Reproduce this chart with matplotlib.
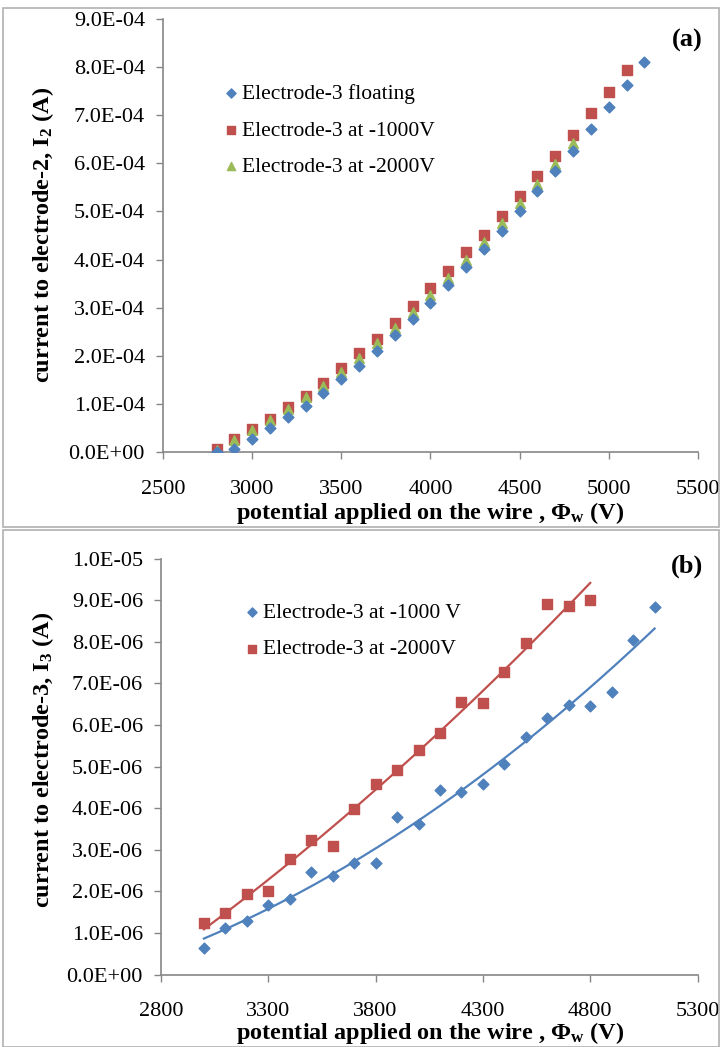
import matplotlib
matplotlib.use("Agg")
import numpy as np
import matplotlib.pyplot as plt
import matplotlib.ticker as mticker
from matplotlib.patches import Rectangle

plt.rcParams["font.family"] = ["Liberation Serif", "DejaVu Serif"]
plt.rcParams["mathtext.fontset"] = "custom"
plt.rcParams["mathtext.rm"] = "Liberation Serif"
plt.rcParams["mathtext.bf"] = "Liberation Serif:bold"
plt.rcParams["mathtext.it"] = "Liberation Serif:italic"

BLUE = "#4F81BD"
RED = "#C0504D"
GREEN = "#9BBB59"
AXIS = "#868686"
W, H = 720, 1047

# ---- panel (a): current to electrode-2 (A), in units of 1e-4
v_a_float = list(range(2800, 5201, 100))
i2_float = [0.00, 0.06, 0.27, 0.49, 0.72, 0.96, 1.23, 1.52, 1.79, 2.10, 2.43, 2.76, 3.10,
            3.47, 3.84, 4.22, 4.60, 5.02, 5.42, 5.84, 6.26, 6.71, 7.17, 7.63, 8.10]
v_a_1000 = list(range(2800, 5101, 100))
i2_1000 = [0.07, 0.27, 0.48, 0.69, 0.93, 1.17, 1.43, 1.74, 2.05, 2.35, 2.69, 3.04, 3.40,
           3.77, 4.16, 4.51, 4.91, 5.32, 5.74, 6.15, 6.59, 7.04, 7.49, 7.95]
v_a_2000 = list(range(2800, 4801, 100))
i2_2000 = [0.05, 0.25, 0.46, 0.67, 0.90, 1.14, 1.38, 1.67, 1.95, 2.26, 2.57, 2.90, 3.26,
           3.62, 3.99, 4.36, 4.77, 5.17, 5.57, 5.99, 6.42]

# ---- panel (b): current to electrode-3 (A), in units of 1e-6
v_b_1000 = list(range(3000, 5101, 100))
i3_1000 = [0.65, 1.13, 1.28, 1.68, 1.83, 2.46, 2.37, 2.68, 2.68, 3.78, 3.62, 4.44, 4.38,
           4.58, 5.06, 5.70, 6.18, 6.48, 6.45, 6.79, 8.04, 8.83]
v_b_2000 = list(range(3000, 4801, 100))
i3_2000 = [1.25, 1.49, 1.93, 2.02, 2.79, 3.24, 3.10, 3.97, 4.59, 4.92, 5.40, 5.81, 6.56,
           6.53, 7.28, 7.98, 8.90, 8.85, 9.00]

XLABEL = "potential applied on the wire , Φ$_\\mathbf{w}$ (V)"


def sci(v, _):
    return f"{v:.1E}"


def px(x, y):
    # pixel position (from top-left) -> figure fraction
    return x / W, 1 - y / H


def style(ax):
    for s in ("top", "right"):
        ax.spines[s].set_visible(False)
    for s in ("left", "bottom"):
        ax.spines[s].set_color(AXIS)
        ax.spines[s].set_linewidth(1.2)
    ax.tick_params(direction="out", length=5, width=1.0, color=AXIS, labelsize=16)
    ax.tick_params(axis="x", pad=15)
    ax.tick_params(axis="y", pad=8)
    ax.yaxis.set_major_formatter(mticker.FuncFormatter(sci))


def legend(ax, x, y):
    fx, fy = px(x, y)
    ax.legend(loc="upper left", bbox_to_anchor=(fx, fy), bbox_transform=ax.figure.transFigure,
              frameon=False, fontsize=15.5, handlelength=0.6, handletextpad=0.2,
              labelspacing=0.76, borderpad=0, borderaxespad=0, markerscale=0.85)


fig = plt.figure(figsize=(W / 100, H / 100), dpi=100)

# chart-area borders
for y0, h in ((0.497, 0.495), (0.0, 0.494)):
    fig.patches.append(Rectangle((0.004, y0), 0.994, h, transform=fig.transFigure,
                                 fill=False, edgecolor="#b0b0b0", linewidth=1.2))

# ---------------- (a)
ax1 = fig.add_axes([0.2264, 0.5683, 0.743, 0.4135])
e = 1e-4
ax1.scatter(v_a_float, np.array(i2_float) * e, marker="D", s=30, color=BLUE,
            label="Electrode-3 floating", zorder=3)
ax1.scatter(v_a_1000, np.array(i2_1000) * e, marker="s", s=52, color=RED,
            label="Electrode-3 at -1000V", zorder=2)
ax1.scatter(v_a_2000, np.array(i2_2000) * e, marker="^", s=48, color=GREEN,
            label="Electrode-3 at -2000V", zorder=2)
ax1.set_xlim(2500, 5500)
ax1.set_ylim(0, 9e-4)
ax1.set_xticks(range(2500, 5501, 500))
ax1.set_yticks(np.arange(0, 9.01e-4, 1e-4))
style(ax1)
legend(ax1, 225, 84)
fig.text(*px(703, 40), "(a)", ha="right", va="center", fontsize=19, fontweight="bold")
fig.text(*px(43, 235), "current to electrode-2, I$_\\mathbf{2}$ (A)", rotation=90,
         ha="center", va="center", fontsize=17.5, fontweight="bold")
fig.text(*px(430, 513), XLABEL, ha="center", va="center", fontsize=17.5, fontweight="bold")

# ---------------- (b)
ax2 = fig.add_axes([0.2236, 0.0691, 0.7452, 0.3974])
e = 1e-6
vb1 = np.array(v_b_1000)
vb2 = np.array(v_b_2000)
y1 = np.array(i3_1000) * e
y2 = np.array(i3_2000) * e
ax2.scatter(vb1, y1, marker="D", s=30, color=BLUE, label="Electrode-3 at -1000 V", zorder=3)
ax2.scatter(vb2, y2, marker="s", s=52, color=RED, label="Electrode-3 at -2000V", zorder=3)
# second-order polynomial trendlines
for vv, yy, c in ((vb1, y1, BLUE), (vb2, y2, RED)):
    p = np.polyfit(vv, yy, 2)
    xs = np.linspace(vv.min(), vv.max(), 200)
    ax2.plot(xs, np.polyval(p, xs), color=c, linewidth=1.6, zorder=2)
ax2.set_xlim(2800, 5300)
ax2.set_ylim(0, 1e-5)
ax2.set_xticks(range(2800, 5301, 500))
ax2.set_yticks(np.arange(0, 1.001e-5, 1e-6))
style(ax2)
legend(ax2, 246, 603)
fig.text(*px(703, 566), "(b)", ha="right", va="center", fontsize=19, fontweight="bold")
fig.text(*px(43, 760), "current to electrode-3, I$_\\mathbf{3}$ (A)", rotation=90,
         ha="center", va="center", fontsize=17.5, fontweight="bold")
fig.text(*px(430, 1033), XLABEL, ha="center", va="center", fontsize=17.5, fontweight="bold")

fig.savefig("out.png", dpi=100)
